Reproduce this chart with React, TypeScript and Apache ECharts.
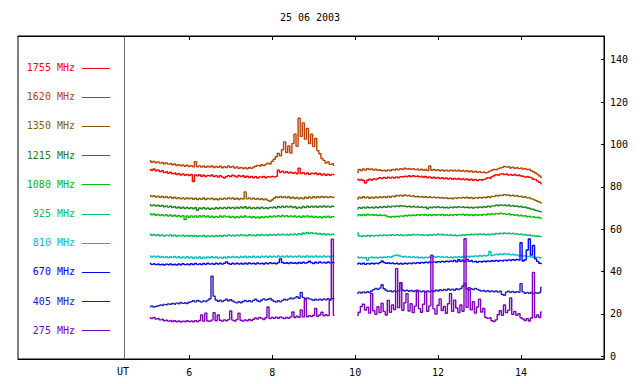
import React, { useEffect, useRef } from "react";
import * as echarts from "echarts";

const TITLE = "25 06 2003";
const FREQS = ["1755 MHz", "1620 MHz", "1350 MHz", "1215 MHz", "1080 MHz", "925 MHz", "810 MHz", "670 MHz", "405 MHz", "275 MHz"];
const COLORS = ["#ff0000", "#c04000", "#8c5c00", "#208020", "#00c000", "#00c060", "#00c0c0", "#0000ff", "#2020c0", "#8000c0"];
const X_TICKS = [6, 8, 10, 12, 14];
const Y_TICKS = [0, 20, 40, 60, 80, 100, 120, 140];

// sampling grid (hours UT)
const A_START = 5.05;
const B_START = 10.05;
const STEP = 0.05;

const s1755a = [88.2, 87.8, 88.4, 87.6, 88.0, 87.2, 87.6, 86.8, 87.1, 86.4, 86.9, 86.2, 86.5, 85.8, 86.3, 85.6, 86.1, 85.4, 85.9, 85.3, 85.8, 82.5, 85.6, 85.2, 85.7, 85.0, 85.5, 84.9, 85.4, 85.1, 85.6, 84.8, 85.3, 84.6, 85.2, 84.7, 84.2, 84.9, 85.3, 84.8, 85.5, 85.1, 84.6, 85.4, 84.8, 85.2, 84.5, 85.0, 84.4, 84.9, 84.3, 84.8, 84.2, 84.7, 84.5, 84.9, 84.3, 84.8, 84.6, 84.9, 84.7, 85.0, 87.8, 86.9, 87.4, 86.6, 87.2, 86.5, 86.9, 86.4, 86.8, 86.2, 88.8, 86.3, 86.7, 86.0, 86.5, 85.9, 86.4, 86.1, 86.5, 85.8, 86.3, 85.6, 86.1, 85.5, 86.0, 85.4, 85.9, 85.6];
const s1755b = [83.6, 83.2, 83.5, 83.0, 81.8, 83.1, 83.6, 83.2, 83.7, 83.4, 83.9, 84.3, 83.9, 84.4, 84.0, 84.5, 84.1, 84.6, 84.2, 84.7, 84.3, 84.8, 84.6, 85.0, 84.7, 85.2, 84.8, 85.3, 84.9, 85.1, 84.7, 85.0, 84.5, 84.9, 84.3, 84.7, 84.1, 84.5, 84.0, 84.4, 83.9, 84.3, 83.8, 84.2, 83.7, 84.1, 83.6, 84.0, 83.5, 83.9, 83.4, 83.8, 83.3, 83.7, 83.2, 83.6, 83.1, 83.5, 83.0, 83.4, 83.1, 83.5, 83.8, 84.3, 84.0, 84.8, 85.2, 85.7, 85.5, 86.0, 86.2, 85.8, 86.1, 85.6, 85.9, 85.4, 85.8, 85.3, 85.6, 85.1, 85.0, 84.6, 84.9, 84.5, 84.2, 83.6, 83.4, 82.7, 82.1, 81.4];

const s1620a = [92.3, 91.6, 92.0, 91.4, 91.8, 91.2, 91.5, 90.9, 91.3, 90.7, 91.0, 90.4, 90.8, 90.1, 90.5, 89.9, 90.3, 89.7, 90.2, 89.6, 90.0, 89.4, 91.9, 89.5, 89.9, 89.3, 89.8, 89.2, 89.7, 89.3, 89.8, 89.1, 89.6, 89.2, 89.7, 89.0, 89.5, 89.1, 89.8, 89.2, 89.6, 88.9, 89.4, 88.7, 89.2, 88.6, 89.0, 88.5, 89.1, 88.7, 89.3, 89.7, 90.1, 89.8, 90.4, 90.0, 90.6, 91.2, 90.8, 92.0, 93.0, 94.2, 95.8, 94.6, 97.5, 101.2, 96.2, 99.3, 95.9, 100.4, 104.8, 99.1, 112.4, 103.8, 110.2, 102.5, 107.6, 100.4, 104.8, 99.0, 102.8, 97.1, 95.6, 93.4, 92.5, 91.2, 91.8, 90.6, 90.9, 90.2];
const s1620b = [86.8, 88.2, 87.7, 88.4, 87.9, 88.6, 88.1, 88.5, 87.9, 88.3, 87.8, 88.1, 87.6, 87.9, 87.5, 88.0, 87.6, 88.2, 87.9, 88.4, 88.0, 88.6, 88.2, 88.8, 88.4, 88.7, 88.3, 88.6, 88.1, 88.4, 87.9, 88.3, 87.8, 88.2, 87.7, 89.9, 87.8, 88.2, 87.7, 88.1, 87.6, 88.0, 87.5, 87.9, 87.4, 87.8, 87.5, 87.9, 87.4, 87.8, 87.3, 87.7, 87.2, 87.6, 87.1, 87.5, 87.0, 87.4, 86.9, 87.2, 86.7, 87.0, 86.6, 86.9, 87.4, 87.8, 88.2, 88.0, 88.5, 88.9, 89.2, 89.6, 89.3, 89.5, 88.9, 89.3, 88.8, 89.1, 88.6, 88.9, 88.4, 88.7, 88.1, 88.3, 87.6, 87.1, 86.5, 85.9, 85.1, 84.4];

const s1350a = [75.9, 75.4, 75.8, 75.2, 75.6, 75.1, 75.5, 74.9, 75.4, 74.8, 75.2, 74.6, 75.1, 74.5, 74.9, 74.3, 74.8, 74.2, 74.7, 74.3, 74.8, 74.1, 74.6, 74.0, 74.5, 74.1, 74.7, 74.0, 74.5, 74.2, 74.6, 74.0, 74.4, 73.9, 74.5, 74.1, 74.6, 74.2, 74.8, 74.3, 74.7, 74.1, 74.6, 74.0, 74.5, 74.2, 77.6, 74.3, 74.8, 74.2, 74.6, 74.1, 74.5, 74.0, 74.4, 73.9, 74.3, 73.6, 73.2, 73.8, 74.6, 75.3, 74.9, 75.5, 75.0, 75.4, 74.8, 75.3, 74.6, 75.1, 74.5, 75.0, 74.4, 74.9, 74.3, 75.1, 74.6, 75.2, 74.7, 75.3, 74.8, 75.4, 74.9, 75.5, 75.0, 75.4, 74.9, 75.3, 75.0, 75.2];
const s1350b = [74.2, 75.1, 74.7, 75.3, 74.8, 75.2, 74.6, 75.1, 74.7, 75.2, 74.8, 75.3, 74.9, 75.4, 75.0, 75.5, 75.1, 75.6, 75.3, 75.9, 75.6, 76.1, 75.7, 76.2, 75.8, 76.0, 75.5, 75.8, 75.3, 75.6, 75.2, 75.5, 75.1, 75.4, 75.0, 75.3, 74.9, 75.2, 74.8, 75.1, 74.7, 75.0, 74.6, 74.9, 74.5, 74.8, 74.4, 74.8, 74.5, 74.9, 74.6, 75.0, 74.7, 75.1, 74.6, 75.0, 74.5, 74.9, 74.6, 75.0, 74.7, 75.1, 74.8, 75.3, 75.0, 75.5, 75.4, 75.9, 75.7, 76.1, 75.9, 76.3, 76.0, 76.2, 75.8, 76.1, 75.6, 75.9, 75.4, 75.6, 75.1, 75.3, 74.8, 74.9, 74.3, 74.1, 73.6, 73.2, 72.8, 72.3];

const s1215a = [71.6, 71.0, 71.5, 70.9, 71.3, 70.8, 71.2, 70.6, 71.0, 70.4, 70.8, 70.2, 70.6, 70.0, 70.5, 69.9, 70.4, 69.8, 70.3, 69.7, 70.2, 69.6, 70.1, 68.9, 70.0, 69.6, 70.2, 69.5, 70.0, 69.4, 69.9, 69.5, 70.1, 69.6, 70.2, 69.7, 70.3, 69.8, 70.4, 69.9, 70.3, 69.8, 70.4, 69.9, 70.5, 70.0, 70.6, 69.9, 70.4, 69.8, 70.2, 69.7, 70.3, 69.8, 70.4, 69.9, 70.2, 69.8, 70.3, 70.0, 70.5, 70.0, 70.7, 70.2, 70.8, 70.3, 70.9, 70.4, 70.8, 70.2, 70.6, 69.9, 70.4, 70.0, 70.7, 70.2, 70.8, 70.3, 70.9, 70.4, 70.8, 70.3, 70.9, 70.4, 71.0, 70.5, 70.9, 70.4, 70.8, 70.6];
const s1215b = [69.6, 70.3, 69.9, 70.4, 70.0, 70.5, 70.1, 70.4, 70.0, 70.5, 70.1, 70.6, 70.2, 70.7, 70.3, 70.8, 70.4, 70.9, 70.6, 71.0, 70.7, 71.1, 70.8, 71.0, 70.6, 70.9, 70.5, 70.8, 70.4, 70.7, 70.3, 70.6, 70.2, 70.5, 69.6, 70.4, 70.1, 70.5, 70.2, 70.6, 70.2, 70.5, 70.1, 70.4, 70.0, 70.4, 70.1, 70.5, 70.2, 70.6, 70.3, 70.6, 70.2, 70.5, 70.1, 70.4, 70.0, 70.4, 70.1, 70.5, 70.2, 70.6, 70.3, 70.8, 70.5, 71.0, 70.9, 71.3, 71.1, 71.5, 71.2, 71.5, 71.1, 71.4, 70.9, 71.2, 70.8, 71.0, 70.6, 70.8, 70.3, 70.5, 70.0, 69.9, 69.5, 69.3, 68.9, 68.6, 68.3, 68.0];

const s1080a = [67.4, 66.8, 67.2, 66.6, 67.0, 66.5, 66.9, 66.3, 66.8, 66.2, 66.7, 66.1, 66.6, 66.0, 66.5, 65.9, 66.4, 64.6, 66.2, 65.6, 66.3, 65.7, 66.2, 65.6, 66.3, 65.8, 66.4, 65.7, 66.2, 65.6, 66.1, 65.5, 66.0, 65.6, 66.2, 65.7, 66.3, 65.8, 66.1, 65.5, 66.0, 65.4, 65.9, 65.5, 66.1, 65.6, 66.2, 65.7, 66.0, 65.5, 65.9, 65.4, 65.8, 65.3, 65.9, 65.5, 66.0, 65.6, 66.1, 65.7, 66.3, 65.8, 66.4, 65.9, 66.5, 66.0, 66.4, 65.9, 66.3, 65.8, 66.2, 65.7, 66.1, 65.6, 66.2, 65.8, 66.3, 65.7, 66.1, 65.6, 66.0, 65.5, 65.9, 65.4, 66.0, 65.6, 66.1, 65.5, 65.9, 65.7];
const s1080b = [66.3, 66.9, 66.5, 67.0, 66.6, 67.1, 66.7, 67.0, 66.6, 66.9, 66.5, 66.8, 66.4, 66.7, 66.3, 65.9, 65.6, 66.0, 65.7, 66.1, 65.8, 66.3, 66.0, 66.5, 66.2, 66.6, 66.3, 66.7, 66.4, 66.8, 66.5, 66.9, 66.6, 67.0, 66.5, 66.9, 66.4, 66.8, 66.5, 66.9, 66.6, 67.0, 66.5, 66.9, 66.4, 66.8, 66.5, 66.9, 66.6, 67.0, 66.7, 67.1, 66.6, 67.0, 66.5, 66.9, 66.4, 66.8, 66.5, 66.9, 66.6, 67.0, 66.7, 67.2, 66.9, 67.3, 67.0, 67.4, 67.1, 67.5, 67.2, 67.4, 67.0, 67.3, 66.8, 67.0, 66.6, 66.8, 66.3, 66.6, 66.2, 66.4, 65.9, 66.1, 65.7, 65.9, 65.5, 65.7, 65.3, 65.4];

const s925a = [57.6, 57.1, 57.5, 57.0, 57.4, 56.9, 57.3, 56.8, 57.2, 56.9, 57.3, 56.8, 57.2, 56.7, 57.1, 56.8, 57.2, 56.6, 57.0, 56.7, 57.1, 56.6, 57.0, 56.5, 56.9, 56.6, 57.0, 56.4, 56.9, 56.5, 56.9, 56.5, 57.0, 56.6, 57.1, 56.7, 57.2, 56.8, 57.3, 56.9, 57.2, 56.8, 57.3, 56.9, 57.4, 57.0, 57.3, 56.9, 57.4, 57.0, 57.3, 56.9, 57.4, 57.0, 57.5, 57.1, 57.4, 57.0, 57.5, 57.1, 57.5, 57.1, 57.6, 57.2, 57.7, 57.3, 57.6, 57.2, 57.7, 57.3, 57.8, 57.4, 57.9, 57.5, 58.2, 57.8, 58.5, 58.0, 58.4, 57.9, 58.2, 57.7, 58.0, 57.5, 57.9, 57.4, 57.8, 57.3, 57.7, 57.4];
const s925b = [58.2, 56.8, 56.5, 56.9, 56.6, 57.0, 56.7, 57.1, 56.8, 57.1, 56.8, 57.2, 56.9, 57.3, 57.0, 57.3, 57.0, 57.4, 57.1, 57.4, 57.1, 57.4, 57.0, 57.3, 57.0, 57.4, 57.1, 57.5, 57.2, 57.5, 57.2, 57.4, 57.1, 57.3, 57.0, 57.4, 57.1, 57.5, 57.2, 57.6, 57.3, 57.6, 57.2, 57.5, 57.1, 57.4, 57.0, 57.3, 56.9, 57.2, 57.0, 57.4, 57.1, 57.5, 57.2, 57.6, 57.3, 57.7, 57.4, 57.8, 57.5, 57.8, 57.4, 57.7, 57.3, 57.8, 57.5, 58.0, 57.7, 58.1, 57.8, 58.2, 57.9, 58.2, 57.8, 58.1, 57.7, 57.9, 57.5, 57.8, 57.3, 57.5, 57.1, 57.3, 56.9, 57.1, 56.7, 56.9, 56.5, 56.6];

const s810a = [47.4, 46.9, 47.3, 46.8, 47.2, 46.7, 47.1, 46.6, 47.0, 46.5, 47.0, 46.6, 47.1, 46.5, 47.0, 46.4, 46.9, 46.5, 47.0, 46.4, 46.9, 46.3, 46.8, 46.4, 46.9, 46.3, 46.8, 46.4, 46.9, 46.5, 47.0, 46.5, 46.9, 46.4, 46.8, 46.3, 46.9, 46.4, 47.0, 46.6, 47.1, 46.6, 47.0, 46.5, 47.1, 46.7, 47.2, 46.6, 47.1, 46.7, 47.2, 46.7, 47.1, 46.6, 47.2, 46.8, 47.3, 46.7, 47.2, 46.8, 47.3, 46.8, 47.4, 46.9, 47.3, 46.8, 47.4, 46.9, 47.3, 46.8, 47.3, 46.9, 47.4, 46.8, 47.3, 46.9, 47.4, 46.9, 47.3, 46.8, 47.4, 46.9, 47.3, 46.8, 47.4, 46.9, 47.3, 46.8, 47.4, 47.0];
const s810b = [46.9, 46.5, 46.8, 46.4, 46.7, 45.3, 46.6, 46.9, 46.5, 46.8, 46.4, 46.8, 46.5, 46.9, 46.6, 47.0, 46.7, 47.1, 47.6, 47.9, 47.5, 47.2, 46.9, 47.2, 46.8, 47.1, 46.7, 47.0, 46.6, 46.9, 46.5, 46.8, 46.4, 46.8, 46.5, 46.9, 46.6, 47.0, 46.7, 47.1, 46.8, 47.1, 46.7, 47.0, 46.6, 46.9, 46.5, 46.9, 46.6, 47.0, 46.7, 47.1, 46.8, 47.2, 46.9, 47.3, 47.0, 47.4, 47.1, 47.5, 47.2, 47.6, 47.3, 47.7, 49.5, 47.6, 47.9, 48.2, 47.9, 48.3, 48.0, 48.4, 48.1, 48.3, 47.9, 48.2, 47.8, 47.9, 47.5, 47.7, 47.3, 47.5, 47.1, 47.3, 46.9, 47.0, 46.7, 46.8, 46.5, 46.6];

const s670a = [43.8, 43.4, 43.7, 43.3, 43.6, 43.2, 43.5, 43.1, 43.5, 43.2, 43.6, 43.2, 43.5, 43.1, 43.6, 43.2, 43.7, 43.3, 43.6, 43.2, 43.7, 43.3, 43.8, 43.4, 43.7, 43.3, 43.8, 43.4, 43.9, 43.5, 43.8, 43.4, 43.9, 43.5, 44.0, 43.5, 43.9, 44.6, 43.8, 43.4, 43.9, 43.5, 44.0, 43.6, 43.9, 43.5, 44.0, 43.6, 44.1, 43.7, 44.0, 43.6, 44.1, 43.7, 44.0, 43.6, 44.1, 43.7, 44.2, 43.8, 44.1, 43.7, 44.2, 46.0, 44.3, 43.9, 44.2, 43.8, 44.3, 43.9, 44.2, 43.8, 44.3, 43.9, 44.4, 44.0, 44.3, 44.9, 44.2, 43.8, 44.4, 44.0, 44.5, 44.1, 44.4, 44.0, 44.5, 44.1, 44.3, 44.0];
const s670b = [43.6, 44.0, 43.5, 43.9, 43.4, 43.8, 43.5, 43.9, 43.6, 44.0, 43.7, 44.2, 45.0, 44.3, 43.9, 44.2, 43.8, 44.1, 43.7, 44.0, 43.6, 43.9, 43.5, 43.9, 43.6, 44.0, 43.7, 44.1, 43.8, 44.2, 43.9, 44.3, 44.0, 44.4, 44.1, 44.5, 44.2, 44.6, 44.3, 44.7, 44.4, 44.8, 44.5, 44.9, 44.6, 45.0, 44.7, 45.3, 44.6, 45.6, 44.8, 45.4, 44.7, 45.8, 44.9, 45.2, 44.6, 44.9, 44.4, 44.8, 44.5, 44.9, 44.6, 45.0, 44.7, 45.1, 44.8, 45.2, 44.9, 45.3, 45.0, 45.4, 45.1, 45.5, 45.2, 45.6, 45.3, 45.7, 45.4, 53.6, 45.0, 45.6, 50.2, 55.4, 47.8, 52.3, 46.0, 44.8, 43.9, 43.6];

const s405a = [23.4, 23.8, 23.3, 23.6, 23.9, 24.2, 24.0, 24.5, 24.3, 24.7, 24.5, 24.9, 24.6, 25.1, 24.8, 25.4, 25.0, 25.3, 24.9, 25.5, 25.8, 26.2, 25.7, 26.4, 26.0, 25.6, 26.1, 25.8, 26.5, 27.2, 37.8, 28.4, 26.6, 26.0, 26.5, 25.8, 26.4, 26.9, 26.2, 26.7, 26.1, 25.6, 25.2, 25.8, 25.3, 25.9, 26.4, 25.8, 26.3, 25.7, 26.4, 26.9, 26.2, 25.8, 26.6, 27.1, 26.5, 26.9, 27.3, 26.6, 26.0, 25.6, 26.2, 25.7, 26.4, 26.9, 26.5, 27.0, 27.5, 27.1, 27.6, 28.1, 27.4, 30.2, 27.8, 27.2, 27.6, 27.1, 26.8, 26.4, 26.9, 26.5, 27.0, 26.6, 27.1, 26.7, 27.2, 26.8, 27.3, 27.0];
const s405b = [29.8, 30.3, 29.9, 30.4, 30.0, 30.5, 30.1, 30.8, 31.5, 32.0, 31.6, 32.2, 33.8, 31.9, 31.2, 30.7, 31.0, 30.5, 30.9, 30.4, 31.0, 34.8, 31.3, 30.8, 31.2, 30.7, 31.1, 30.6, 31.0, 30.5, 30.9, 30.4, 30.8, 30.3, 30.9, 30.5, 31.0, 30.6, 31.2, 30.8, 31.4, 31.0, 31.6, 31.2, 31.8, 31.3, 31.7, 31.2, 31.9, 31.5, 32.0, 33.2, 34.4, 31.8, 31.4, 31.9, 31.5, 32.0, 31.6, 31.2, 30.8, 31.1, 30.6, 31.0, 30.5, 30.9, 30.4, 30.8, 30.3, 30.7, 29.2, 28.8, 30.3, 30.7, 30.2, 30.6, 30.1, 30.5, 30.2, 34.3, 30.4, 29.8, 30.2, 29.7, 30.1, 29.6, 30.0, 29.7, 30.1, 32.5];

const s275a = [18.2, 17.8, 18.4, 17.6, 17.9, 17.2, 17.5, 16.8, 17.1, 16.6, 16.9, 16.4, 16.8, 16.3, 16.7, 16.2, 16.6, 16.3, 16.8, 16.4, 16.7, 16.3, 16.8, 16.4, 16.9, 19.5, 16.6, 20.4, 16.7, 16.5, 17.1, 20.6, 16.8, 19.5, 17.0, 16.6, 17.2, 16.8, 17.3, 21.4, 17.1, 16.7, 17.3, 20.4, 17.0, 16.6, 17.2, 16.8, 17.4, 16.9, 17.5, 18.1, 17.6, 18.4, 17.9, 17.4, 18.2, 23.3, 17.8, 18.3, 17.9, 18.5, 18.0, 18.6, 18.2, 17.8, 18.4, 18.0, 18.6, 20.9, 18.3, 18.9, 18.4, 21.9, 18.6, 26.8, 18.7, 19.2, 18.8, 19.4, 22.6, 18.9, 19.5, 20.8, 19.1, 19.6, 19.2, 26.5, 55.3, 19.4];
const s275b = [19.4, 20.8, 23.5, 24.6, 21.8, 23.2, 20.4, 29.6, 21.5, 19.8, 23.4, 20.6, 25.1, 21.2, 19.5, 26.4, 20.8, 24.2, 22.1, 41.4, 23.0, 34.6, 21.7, 25.3, 29.6, 21.4, 24.8, 20.6, 23.7, 31.2, 22.5, 20.8, 24.6, 30.4, 21.3, 23.8, 47.7, 22.4, 19.9, 24.1, 27.1, 21.6, 23.5, 20.3, 24.8, 29.6, 21.2, 26.5, 22.8, 20.6, 24.2, 21.3, 55.5, 23.1, 32.4, 21.9, 25.8, 20.4, 23.3, 27.0, 20.9, 22.6, 18.4, 17.9, 18.2, 16.8, 16.4, 17.2, 19.6, 21.5, 19.4, 24.2, 20.6, 21.8, 27.5, 19.8, 21.2, 19.3, 20.1, 18.2, 17.6, 16.9, 17.8, 16.7, 18.1, 39.6, 18.4, 19.5, 18.3, 20.9];

const SEG_A = [s1755a, s1620a, s1350a, s1215a, s1080a, s925a, s810a, s670a, s405a, s275a];
const SEG_B = [s1755b, s1620b, s1350b, s1215b, s1080b, s925b, s810b, s670b, s405b, s275b];

const FAMILY = '"DejaVu Sans Mono", monospace';
const FONT = '10px "DejaVu Sans Mono", monospace';

function toPairs(vals: number[], start: number) {
  return vals.map((v, i) => [+(start + STEP * i).toFixed(2), v]);
}

function txt(x: number, y: number, text: string, fill: string, align: string) {
  return {
    type: "text",
    x,
    y,
    silent: true,
    style: { text, fill, font: FONT, align, textAlign: align, verticalAlign: "middle", textVerticalAlign: "middle" },
  };
}

export default function App() {
  const ref = useRef<HTMLDivElement>(null);
  useEffect(() => {
    if (!ref.current) return;
    const chart = echarts.init(ref.current, null, { renderer: "svg" });
    const graphic: any[] = [];
    graphic.push(txt(310, 17, TITLE, "#000", "center"));
    graphic.push({ type: "line", silent: true, shape: { x1: 124.5, y1: 36, x2: 124.5, y2: 359 }, style: { stroke: "#707070", lineWidth: 1 } });
    graphic.push(txt(123, 371, "UT", "#000", "center"));
    FREQS.forEach((f, k) => {
      const y = 67.5 + 29.2 * k;
      graphic.push(txt(75, y, f, COLORS[k], "right"));
      graphic.push({ type: "line", silent: true, shape: { x1: 82, y1: Math.round(y) + 0.5, x2: 110, y2: Math.round(y) + 0.5 }, style: { stroke: COLORS[k], lineWidth: 1 } });
    });
    const series: any[] = [];
    FREQS.forEach((f, k) => {
      [toPairs(SEG_A[k], A_START), toPairs(SEG_B[k], B_START)].forEach((data) => {
        series.push({
          name: f,
          type: "line",
          data,
          showSymbol: false,
          symbol: "none",
          step: "middle",
          lineStyle: { color: COLORS[k], width: 1.4 },
          itemStyle: { color: COLORS[k] },
          z: 2 + k,
        });
      });
    });
    const xCommon = {
      type: "value",
      min: 1.872,
      max: 16,
      splitLine: { show: false },
      axisLine: { show: true, onZero: false, lineStyle: { color: "#000" } },
      axisTick: { show: true, inside: true, length: 4, customValues: X_TICKS, lineStyle: { color: "#000" } },
    };
    chart.setOption({
      animation: false,
      backgroundColor: "#fff",
      textStyle: { fontFamily: FAMILY, fontSize: 10 },
      grid: { left: 18, right: 36, top: 36, bottom: 25, show: true, borderColor: "#000", borderWidth: 1, backgroundColor: "transparent" },
      xAxis: [
        {
          ...xCommon,
          position: "bottom",
          axisLabel: { show: true, customValues: X_TICKS, color: "#000", fontFamily: FAMILY, fontSize: 10, margin: 8 },
        },
        {
          ...xCommon,
          position: "top",
          axisLabel: { show: false },
        },
      ],
      yAxis: {
        type: "value",
        min: -1.27,
        max: 151.2,
        position: "right",
        splitLine: { show: false },
        axisLine: { show: true, onZero: false, lineStyle: { color: "#000" } },
        axisTick: { show: true, inside: true, length: 3, customValues: Y_TICKS, lineStyle: { color: "#000" } },
        axisLabel: { show: true, customValues: Y_TICKS, color: "#000", fontFamily: FAMILY, fontSize: 10, margin: 6 },
      },
      graphic,
      series,
    });
    return () => chart.dispose();
  }, []);
  return <div ref={ref} style={{ width: 640, height: 384, position: "absolute", left: 0, top: 0 }} />;
}
